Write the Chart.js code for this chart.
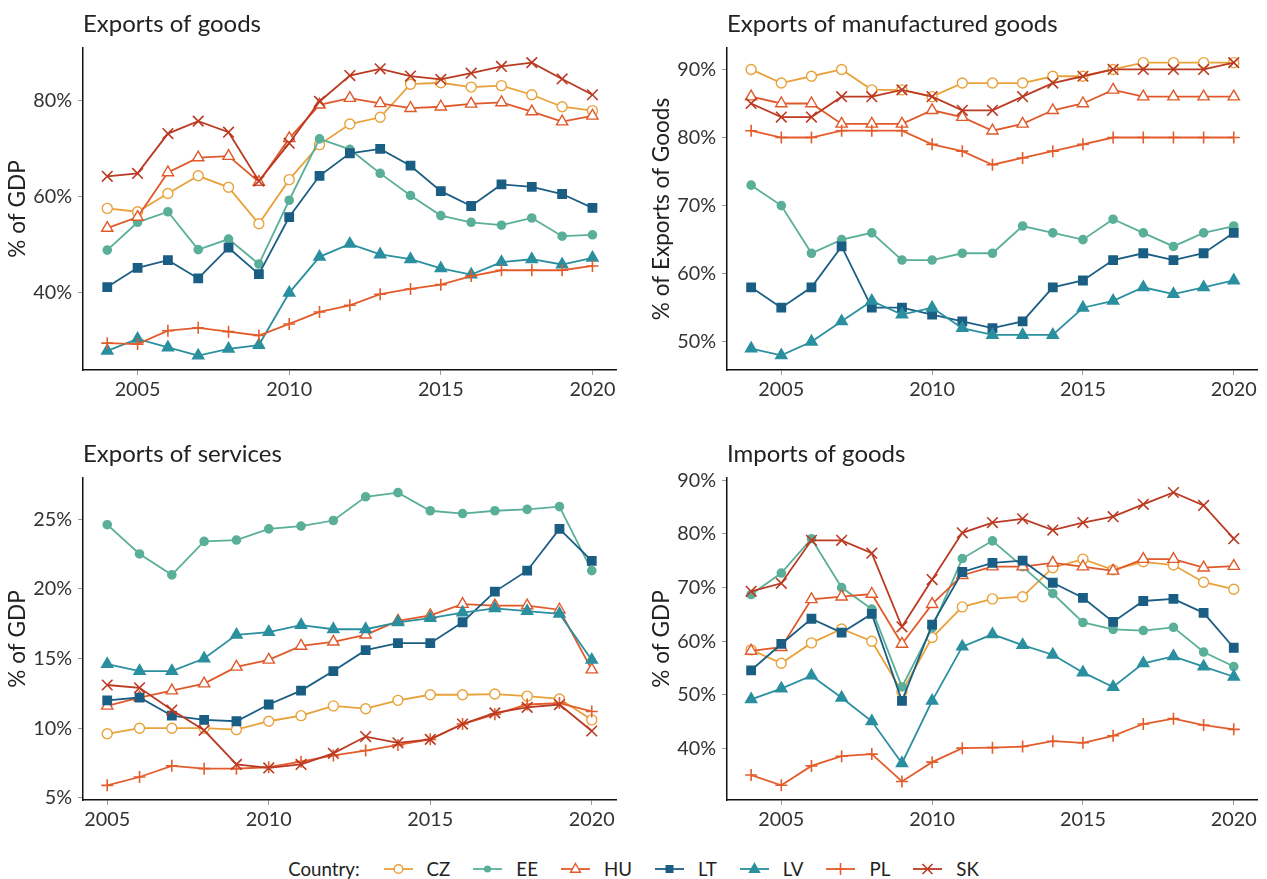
<!DOCTYPE html>
<html>
<head>
<meta charset="utf-8">
<script src="https://cdn.jsdelivr.net/npm/chart.js@4"></script>
<style>
    body { margin: 0; background: #fff; font-family: 'Lato', sans-serif; }
    #page { position: relative; width: 1267px; height: 879px; overflow: hidden; }
    .panel { position: absolute; }
    #legend { position: absolute; left: 0; top: 857px; width: 1267px; height: 24px; display: flex; justify-content: center; align-items: center; font-size: 18.7px; color: #222; }
    #legend .item { display: flex; align-items: center; margin-left: 23px; }
    #legend .item svg { margin-right: 14px; }
    #legend .lab { margin-right: 1px; }
</style>
</head>
<body>
<div id="page">
    <div class="panel" style="left:0;top:0;width:640px;height:410px"><canvas id="c1"></canvas></div>
    <div class="panel" style="left:640px;top:0;width:627px;height:410px"><canvas id="c2"></canvas></div>
    <div class="panel" style="left:0;top:430px;width:640px;height:410px"><canvas id="c3"></canvas></div>
    <div class="panel" style="left:640px;top:430px;width:627px;height:410px"><canvas id="c4"></canvas></div>
    <div id="legend"></div>
</div>
<script>
// years
const years04 = [2004, 2005, 2006, 2007, 2008, 2009, 2010, 2011, 2012, 2013, 2014, 2015, 2016, 2017, 2018, 2019, 2020];
const years05 = [2005, 2006, 2007, 2008, 2009, 2010, 2011, 2012, 2013, 2014, 2015, 2016, 2017, 2018, 2019, 2020];
const countries = ['CZ', 'EE', 'HU', 'LT', 'LV', 'PL', 'SK'];

// Exports of goods, % of GDP
const expGoodsCZ = [57.6, 56.9, 60.7, 64.4, 62.0, 54.4, 63.6, 70.9, 75.2, 76.6, 83.5, 83.8, 82.9, 83.2, 81.3, 78.8, 78.0];
const expGoodsEE = [48.9, 54.7, 56.9, 49.0, 51.2, 46.0, 59.3, 72.1, 69.9, 64.9, 60.3, 56.1, 54.7, 54.1, 55.6, 51.8, 52.1];
const expGoodsHU = [53.5, 55.8, 65.1, 68.2, 68.5, 63.1, 72.2, 79.2, 80.6, 79.5, 78.5, 78.8, 79.4, 79.7, 77.8, 75.7, 76.9];
const expGoodsLT = [41.2, 45.2, 46.8, 43.0, 49.4, 43.9, 55.8, 64.4, 69.1, 70.0, 66.5, 61.2, 58.1, 62.6, 62.1, 60.6, 57.7];
const expGoodsLV = [27.9, 30.4, 28.6, 26.9, 28.3, 29.1, 40.0, 47.5, 50.2, 48.0, 47.0, 45.1, 43.8, 46.4, 47.0, 45.9, 47.3];
const expGoodsPL = [29.5, 29.3, 32.1, 32.7, 31.9, 31.1, 33.5, 36.0, 37.4, 39.7, 40.8, 41.7, 43.5, 44.7, 44.7, 44.7, 45.6];
const expGoodsSK = [64.3, 64.9, 73.2, 75.8, 73.5, 63.3, 71.2, 79.9, 85.3, 86.7, 85.2, 84.5, 85.8, 87.2, 88.0, 84.6, 81.3];

// Exports of manufactured goods, % of exports of goods
const manufCZ = [90, 88, 89, 90, 87, 87, 86, 88, 88, 88, 89, 89, 90, 91, 91, 91, 91];
const manufEE = [73, 70, 63, 65, 66, 62, 62, 63, 63, 67, 66, 65, 68, 66, 64, 66, 67];
const manufHU = [86, 85, 85, 82, 82, 82, 84, 83, 81, 82, 84, 85, 87, 86, 86, 86, 86];
const manufLT = [58, 55, 58, 64, 55, 55, 54, 53, 52, 53, 58, 59, 62, 63, 62, 63, 66];
const manufLV = [49, 48, 50, 53, 56, 54, 55, 52, 51, 51, 51, 55, 56, 58, 57, 58, 59];
const manufPL = [81, 80, 80, 81, 81, 81, 79, 78, 76, 77, 78, 79, 80, 80, 80, 80, 80];
const manufSK = [85, 83, 83, 86, 86, 87, 86, 84, 84, 86, 88, 89, 90, 90, 90, 90, 91];

// Exports of services, % of GDP (from 2005)
const servCZ = [9.6, 10.0, 10.0, 10.0, 9.9, 10.5, 10.9, 11.6, 11.4, 12.0, 12.4, 12.4, 12.45, 12.3, 12.1, 10.6];
const servEE = [24.6, 22.5, 21.0, 23.4, 23.5, 24.3, 24.5, 24.9, 26.6, 26.9, 25.6, 25.4, 25.6, 25.7, 25.9, 21.3];
const servHU = [11.6, 12.2, 12.7, 13.2, 14.4, 14.9, 15.9, 16.2, 16.7, 17.7, 18.1, 18.9, 18.8, 18.8, 18.5, 14.2];
const servLT = [12.0, 12.2, 10.9, 10.6, 10.5, 11.7, 12.7, 14.1, 15.6, 16.1, 16.1, 17.6, 19.8, 21.3, 24.3, 22.0];
const servLV = [14.6, 14.1, 14.1, 15.0, 16.7, 16.9, 17.4, 17.1, 17.1, 17.6, 17.9, 18.3, 18.6, 18.4, 18.2, 14.9];
const servPL = [5.9, 6.5, 7.3, 7.1, 7.1, 7.2, 7.6, 8.05, 8.4, 8.8, 9.2, 10.3, 11.0, 11.7, 11.8, 11.2];
const servSK = [13.1, 12.9, 11.3, 9.85, 7.4, 7.15, 7.4, 8.2, 9.4, 8.95, 9.2, 10.3, 11.1, 11.5, 11.7, 9.8];

// Imports of goods, % of GDP
const impGoodsCZ = [58.4, 55.9, 59.7, 62.3, 60.0, 50.6, 60.7, 66.4, 67.9, 68.3, 73.7, 75.3, 73.3, 74.8, 74.2, 71.0, 69.7];
const impGoodsEE = [68.7, 72.7, 79.1, 70.0, 66.0, 51.5, 62.5, 75.4, 78.7, 73.9, 68.9, 63.5, 62.2, 62.0, 62.6, 58.0, 55.3];
const impGoodsHU = [58.2, 58.9, 67.8, 68.3, 68.8, 59.5, 66.9, 72.3, 73.9, 73.9, 74.6, 73.9, 73.1, 75.3, 75.3, 73.7, 74.0];
const impGoodsLT = [54.6, 59.5, 64.2, 61.6, 65.1, 48.9, 63.1, 72.9, 74.6, 75.0, 70.9, 68.1, 63.6, 67.5, 67.9, 65.3, 58.8];
const impGoodsLV = [49.2, 51.2, 53.6, 49.5, 45.1, 37.3, 48.9, 59.0, 61.3, 59.3, 57.5, 54.2, 51.5, 55.9, 57.2, 55.3, 53.4];
const impGoodsPL = [35.1, 33.2, 36.8, 38.6, 39.0, 33.9, 37.5, 40.1, 40.2, 40.4, 41.4, 41.1, 42.4, 44.6, 45.6, 44.4, 43.6];
const impGoodsSK = [69.3, 70.8, 78.8, 78.8, 76.4, 62.7, 71.5, 80.2, 82.1, 82.8, 80.7, 82.1, 83.2, 85.5, 87.7, 85.3, 79.1];

// tick labels
const xTicks = [2005, 2010, 2015, 2020];
const yTicksGoods = [40, 60, 80];
const yTicksManuf = [50, 60, 70, 80, 90];
const yTicksServ = [5, 10, 15, 20, 25];
const yTicksImp = [40, 50, 60, 70, 80, 90];

// look of each country
const styles = {
    CZ: { color: '#E9A23B', shape: 'circle', radius: 5, open: true },
    EE: { color: '#5AAF98', shape: 'circle', radius: 4, open: false },
    HU: { color: '#E0592B', shape: 'triangle', radius: 6.5, open: true },
    LT: { color: '#1B5E84', shape: 'rect', radius: 5.8, open: false },
    LV: { color: '#2A8F9F', shape: 'triangle', radius: 6.3, open: false },
    PL: { color: '#E35D2C', shape: 'cross', radius: 6, open: false },
    SK: { color: '#BB3A22', shape: 'crossRot', radius: 7.5, open: false },
};

Chart.defaults.font.family = 'Lato';
Chart.defaults.color = '#333';

function makeChart(id, opts) {
    const datasets = countries.map((c, i) => {
        const s = styles[c];
        return {
            label: c,
            data: opts.years.map((yr, k) => ({ x: yr, y: opts.series[i][k] })),
            borderColor: s.color,
            backgroundColor: s.color,
            borderWidth: 1.8,
            pointStyle: s.shape,
            pointRadius: s.radius,
            pointHoverRadius: s.radius,
            pointBorderColor: s.color,
            pointBackgroundColor: s.open ? '#fff' : s.color,
            pointBorderWidth: s.open ? 1.4 : 1.6,
            tension: 0,
            order: countries.length - i,
        };
    });

    new Chart(document.getElementById(id).getContext('2d'), {
        type: 'line',
        data: { datasets: datasets },
        options: {
            responsive: true,
            maintainAspectRatio: false,
            animation: false,
            layout: { padding: { left: 0, right: opts.padRight, top: 0, bottom: 0 } },
            plugins: {
                legend: { display: false },
                tooltip: { enabled: false },
                title: {
                    display: true,
                    text: opts.title,
                    align: 'start',
                    fullSize: false,
                    color: '#222',
                    font: { size: 24, weight: 'normal' },
                    padding: { top: 9.5, bottom: 9.7 },
                },
            },
            scales: {
                x: {
                    type: 'linear',
                    min: opts.xMin,
                    max: opts.xMax,
                    afterBuildTicks: axis => { axis.ticks = xTicks.map(v => ({ value: v })); },
                    afterFit: scale => { scale.height = 40; },
                    ticks: {
                        color: '#333',
                        font: { size: 19.8 },
                        padding: 3,
                        maxRotation: 0,
                        callback: v => String(v),
                    },
                    grid: { drawOnChartArea: false, drawTicks: true, tickLength: 5, color: '#999' },
                    border: { display: true, color: '#111', width: 1.5 },
                },
                y: {
                    type: 'linear',
                    min: opts.yMin,
                    max: opts.yMax,
                    afterBuildTicks: axis => { axis.ticks = opts.yTicks.map(v => ({ value: v })); },
                    afterFit: scale => { scale.width = opts.yWidth; },
                    ticks: {
                        color: '#333',
                        font: { size: 19.8 },
                        padding: 6,
                        callback: v => v + '%',
                    },
                    grid: { drawOnChartArea: false, drawTicks: true, tickLength: 5, color: '#999' },
                    border: { display: true, color: '#111', width: 1.5 },
                    title: {
                        display: true,
                        text: opts.yTitle,
                        color: '#222',
                        font: { size: 22.6 },
                        padding: { top: opts.yTitlePad, bottom: 0 },
                    },
                },
            },
        },
    });
}

makeChart('c1', {
    title: 'Exports of goods', yTitle: '% of GDP', years: years04,
    series: [expGoodsCZ, expGoodsEE, expGoodsHU, expGoodsLT, expGoodsLV, expGoodsPL, expGoodsSK],
    xMin: 2003.2, xMax: 2020.8, yMin: 23.9, yMax: 91.05, yTicks: yTicksGoods,
    yWidth: 83, padRight: 23.3, yTitlePad: 4,
});
makeChart('c2', {
    title: 'Exports of manufactured goods', yTitle: '% of Exports of Goods', years: years04,
    series: [manufCZ, manufEE, manufHU, manufLT, manufLV, manufPL, manufSK],
    xMin: 2003.2, xMax: 2020.8, yMin: 45.85, yMax: 93.15, yTicks: yTicksManuf,
    yWidth: 87, padRight: 6.3, yTitlePad: 8.5,
});
makeChart('c3', {
    title: 'Exports of services', yTitle: '% of GDP', years: years05,
    series: [servCZ, servEE, servHU, servLT, servLV, servPL, servSK],
    xMin: 2004.25, xMax: 2020.75, yMin: 4.85, yMax: 27.95, yTicks: yTicksServ,
    yWidth: 83, padRight: 24, yTitlePad: 4,
});
makeChart('c4', {
    title: 'Imports of goods', yTitle: '% of GDP', years: years04,
    series: [impGoodsCZ, impGoodsEE, impGoodsHU, impGoodsLT, impGoodsLV, impGoodsPL, impGoodsSK],
    xMin: 2003.2, xMax: 2020.8, yMin: 30.45, yMax: 90.4, yTicks: yTicksImp,
    yWidth: 87, padRight: 6.3, yTitlePad: 8.5,
});

// shared legend
function markerSvg(s) {
    const c = s.color, cx = 14.5, cy = 8;
    let m = '';
    if (s.shape === 'circle' && s.open) m = `<circle cx="${cx}" cy="${cy}" r="4.3" fill="#fff" stroke="${c}" stroke-width="1.4"/>`;
    else if (s.shape === 'circle') m = `<circle cx="${cx}" cy="${cy}" r="3.6" fill="${c}"/>`;
    else if (s.shape === 'triangle') m = `<polygon points="${cx},${cy - 5.5} ${cx + 5},${cy + 3.2} ${cx - 5},${cy + 3.2}" fill="${s.open ? '#fff' : c}" stroke="${c}" stroke-width="1.4"/>`;
    else if (s.shape === 'rect') m = `<rect x="${cx - 4}" y="${cy - 4}" width="8" height="8" fill="${c}"/>`;
    else if (s.shape === 'cross') m = `<path d="M${cx - 6} ${cy}H${cx + 6}M${cx} ${cy - 6}V${cy + 6}" stroke="${c}" stroke-width="1.6"/>`;
    else m = `<path d="M${cx - 5} ${cy - 5}L${cx + 5} ${cy + 5}M${cx - 5} ${cy + 5}L${cx + 5} ${cy - 5}" stroke="${c}" stroke-width="1.6"/>`;
    return `<svg width="29" height="16"><line x1="0" y1="${cy}" x2="29" y2="${cy}" stroke="${c}" stroke-width="1.8"/>${m}</svg>`;
}

const legend = document.getElementById('legend');
legend.innerHTML = '<span class="lab">Country:</span>' + countries
    .map(c => `<span class="item">${markerSvg(styles[c])}<span>${c}</span></span>`)
    .join('');
</script>
</body>
</html>
